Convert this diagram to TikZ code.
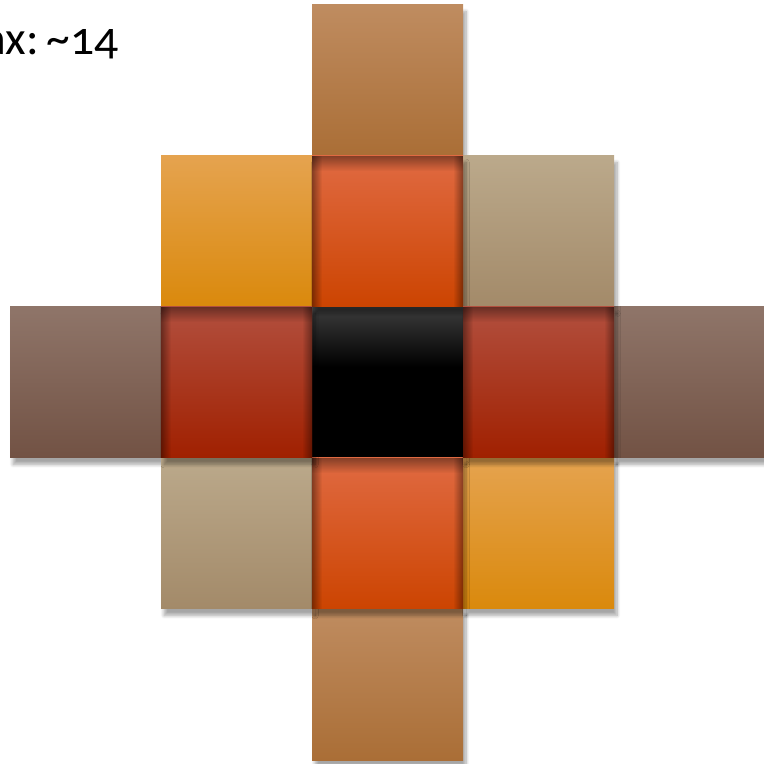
\documentclass[tikz,border=0pt]{standalone}
\usepackage{fontspec}
\setmainfont{Carlito}[Numbers=OldStyle]
\usetikzlibrary{positioning, shadows.blur, calc, fadings}
\definecolor{tanT}{HTML}{BF8C60}
\definecolor{tanB}{HTML}{AA6E36}
\definecolor{orT}{HTML}{E5A34F}
\definecolor{orM}{HTML}{E99B1E}
\definecolor{orB}{HTML}{DA890C}
\definecolor{orrT}{HTML}{E06A42}
\definecolor{orrM}{HTML}{DC530F}
\definecolor{orrB}{HTML}{CC4401}
\definecolor{begT}{HTML}{BBA98B}
\definecolor{begB}{HTML}{A38A69}
\definecolor{brnT}{HTML}{8F7569}
\definecolor{brnB}{HTML}{725244}
\definecolor{redT}{HTML}{B24F3E}
\definecolor{redM}{HTML}{A82A0A}
\definecolor{redB}{HTML}{A02000}
\definecolor{blkT}{HTML}{3C3C3C}
\tikzfading[name=edgeL, left color=transparent!0, right color=transparent!100]
\tikzfading[name=edgeR, left color=transparent!100, right color=transparent!0]
\tikzfading[name=edgeT, top color=transparent!0, bottom color=transparent!100]

\begin{document}
\begin{tikzpicture}[
  every node/.style={inner sep=0pt},
  tile/.style={minimum size=3.02cm, outer sep=0pt,
               blur shadow={shadow blur steps=8, shadow xshift=0.6mm,
               shadow yshift=-1.3mm, shadow opacity=35}},
  tan/.style={tile, top color=tanT, bottom color=tanB},
  orng/.style={tile, top color=orT, middle color=orM, bottom color=orB},
  hot/.style={tile, top color=orrT, middle color=orrM, bottom color=orrB},
  beige/.style={tile, top color=begT, bottom color=begB},
  brn/.style={tile, top color=brnT, bottom color=brnB},
  rust/.style={tile, top color=redT, middle color=redM, bottom color=redB},
  core/.style={tile, fill=black},
  rim/.style={fill=black, fill opacity=0.4},
  node distance=0pt,
]
  \useasboundingbox (0,0) rectangle (15.28,15.28);

  % outer ring
  \node[tan] (top) at (7.75,13.67) {};
  \node[tan] (bot) at (7.75,1.59) {};
  \node[brn] (west) at (1.71,7.63) {};
  \node[brn] (east) at (13.78,7.63) {};

  % diagonal tiles
  \node[orng]  (nw) at (4.73,10.65) {};
  \node[beige] (ne) at (10.77,10.65) {};
  \node[beige] (sw) at (4.73,4.61) {};
  \node[orng]  (se) at (10.77,4.61) {};

  % inner cross
  \node[core] (mid) at (7.75,7.63) {};
  \shade[top color=blkT, bottom color=black] (mid.north west) rectangle ($(mid.east)+(0,0.3)$);
  \node[hot]  (n) [above=of mid] {};
  \node[hot]  (s) [below=of mid] {};
  \node[rust] (w) [left=of mid] {};
  \node[rust] (e) [right=of mid] {};

  % inner edge shading
  \foreach \t in {n, w, e, s} {
    \fill[rim, path fading=edgeL] (\t.north west) rectangle ($(\t.south west)+(0.2,0)$);
    \fill[rim, path fading=edgeR] ($(\t.north east)+(-0.2,0)$) rectangle (\t.south east);
    \fill[rim, path fading=edgeT] (\t.north west) rectangle ($(\t.north east)+(0,-0.3)$);
  }

  % caption
  \node[anchor=base west, font=\fontsize{27}{32}\selectfont] (cap) at (-0.34,14.18) {ax:\,\char"7E 14};
\end{tikzpicture}
\end{document}
